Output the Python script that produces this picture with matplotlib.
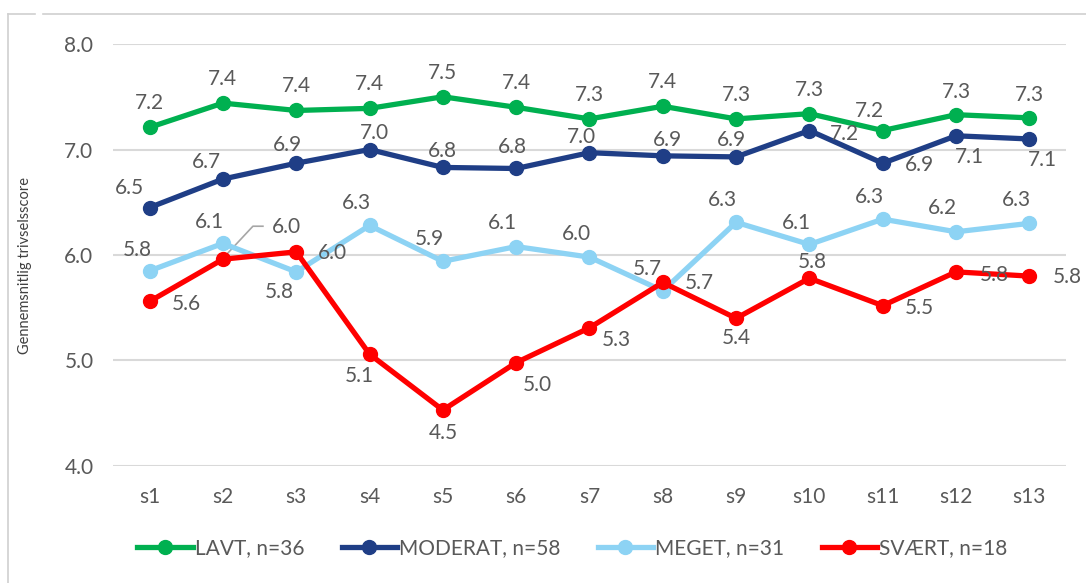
import matplotlib
matplotlib.use("Agg")
import matplotlib.pyplot as plt
from matplotlib.lines import Line2D

plt.rcParams['font.family'] = ['Lato', 'DejaVu Sans']

categories = ['s1', 's2', 's3', 's4', 's5', 's6', 's7', 's8', 's9', 's10', 's11', 's12', 's13']
lavt = [7.21, 7.44, 7.37, 7.39, 7.50, 7.40, 7.29, 7.41, 7.29, 7.34, 7.18, 7.33, 7.30]
moderat = [6.45, 6.72, 6.87, 7.00, 6.83, 6.82, 6.97, 6.94, 6.93, 7.18, 6.87, 7.13, 7.10]
meget = [5.85, 6.11, 5.84, 6.28, 5.94, 6.08, 5.98, 5.66, 6.31, 6.10, 6.34, 6.22, 6.30]
svaert = [5.56, 5.96, 6.03, 5.06, 4.53, 4.98, 5.31, 5.74, 5.40, 5.78, 5.52, 5.84, 5.80]
series_names = ['LAVT, n=36', 'MODERAT, n=58', 'MEGET, n=31', 'SVÆRT, n=18']
colors = ['#00B050', '#1F3E86', '#8DD3F4', '#FF0000']

# label offsets in pixels (dx, dy up) per point, as placed in the original
off_lavt = [(0, 24)] * 10 + [(-13, 20)] + [(0, 23)] * 2
off_moderat = [(-20, 20), (-16, 17), (-9, 18), (5, 17), (0, 16), (-4, 21), (-8, 16),
               (5, 16), (-5, 17), (35, -3), (37, -2), (13, -21), (13, -21)]
off_meget = [(-12, 21), (-13, 21), (-17, -20), (-13, 22), (-13, 22), (-14, 24), (-13, 23),
             (37, 8), (-14, 22), (-13, 21), (-13, 22), (-14, 24), (-13, 23)]
off_svaert = [(37, -3), (64, 32), (36, -1), (-10, -22), (0, -23), (21, -22), (27, -12),
              (-15, 13), (0, -20), (3, 16), (37, -2), (38, -3), (38, -1)]

fig = plt.figure(figsize=(10.86, 5.83), dpi=100)
ax = fig.add_axes([0.104, 0.2007, 0.8776, 0.7238])

x = list(range(len(categories)))
all_series = [lavt, moderat, meget, svaert]
all_offsets = [off_lavt, off_moderat, off_meget, off_svaert]
px = 72 / 100
fs = 15

for vals, col, name in zip(all_series, colors, series_names):
    ax.plot(x, vals, color=col, lw=3.8, marker='o', ms=10, label=name,
            solid_joinstyle='round', zorder=3)

for vals, offs in zip(all_series, all_offsets):
    for i, (v, (dx, dy)) in enumerate(zip(vals, offs)):
        ax.annotate(f'{v:.1f}', (i, v), xytext=(dx * px, dy * px),
                    textcoords='offset points', ha='center', va='center',
                    fontsize=fs, color='#595959', zorder=4)

ax.set_xlim(-0.5, 12.5)
ax.set_ylim(4.0, 8.0)
ax.set_yticks([4, 5, 6, 7, 8])
ax.set_yticklabels(['4.0', '5.0', '6.0', '7.0', '8.0'])
ax.set_xticks(x)
ax.set_xticklabels(categories)
ax.tick_params(axis='both', length=0, labelsize=fs, labelcolor='#595959')
ax.tick_params(axis='x', pad=15)
ax.tick_params(axis='y', pad=14)
ax.grid(axis='y', color='#D9D9D9', lw=1.5)
ax.set_axisbelow(True)
for s in ax.spines.values():
    s.set_visible(False)

# leader line from the SVÆRT s2 label back to its marker (pixel offsets)
lead = [(2, 3), (30, 33), (40, 33)]
fig.canvas.draw()
base = ax.transData.transform((1, svaert[1]))
pts = ax.transData.inverted().transform([(base[0] + a, base[1] + b) for a, b in lead])
ax.plot(pts[:, 0], pts[:, 1], color='#A6A6A6', lw=1.2, zorder=2)

fig.text(0.023, 0.545, 'Gennemsnitlig trivselsscore', rotation=90, ha='center',
         va='center', fontsize=10.5, color='#404040')

handles = [Line2D([], [], color=c, lw=3.8, marker='o', ms=10) for c in colors]
fig.legend(handles, series_names, loc='center', bbox_to_anchor=(0.527, 0.06), ncol=4,
           frameon=False, fontsize=fs, labelcolor='#595959', handlelength=2.65,
           handletextpad=0.1, columnspacing=1.8)

# outer frame like the original
frame_col = '#D0D0D0'
fig.add_artist(Line2D([0.0074, 0.0074], [0.0, 0.976], color=frame_col, lw=1.2))
fig.add_artist(Line2D([0.0074, 0.032], [0.976, 0.976], color=frame_col, lw=1.2))
fig.add_artist(Line2D([0.040, 1.0], [0.976, 0.976], color=frame_col, lw=1.2))

fig.savefig('out.png', dpi=100)
